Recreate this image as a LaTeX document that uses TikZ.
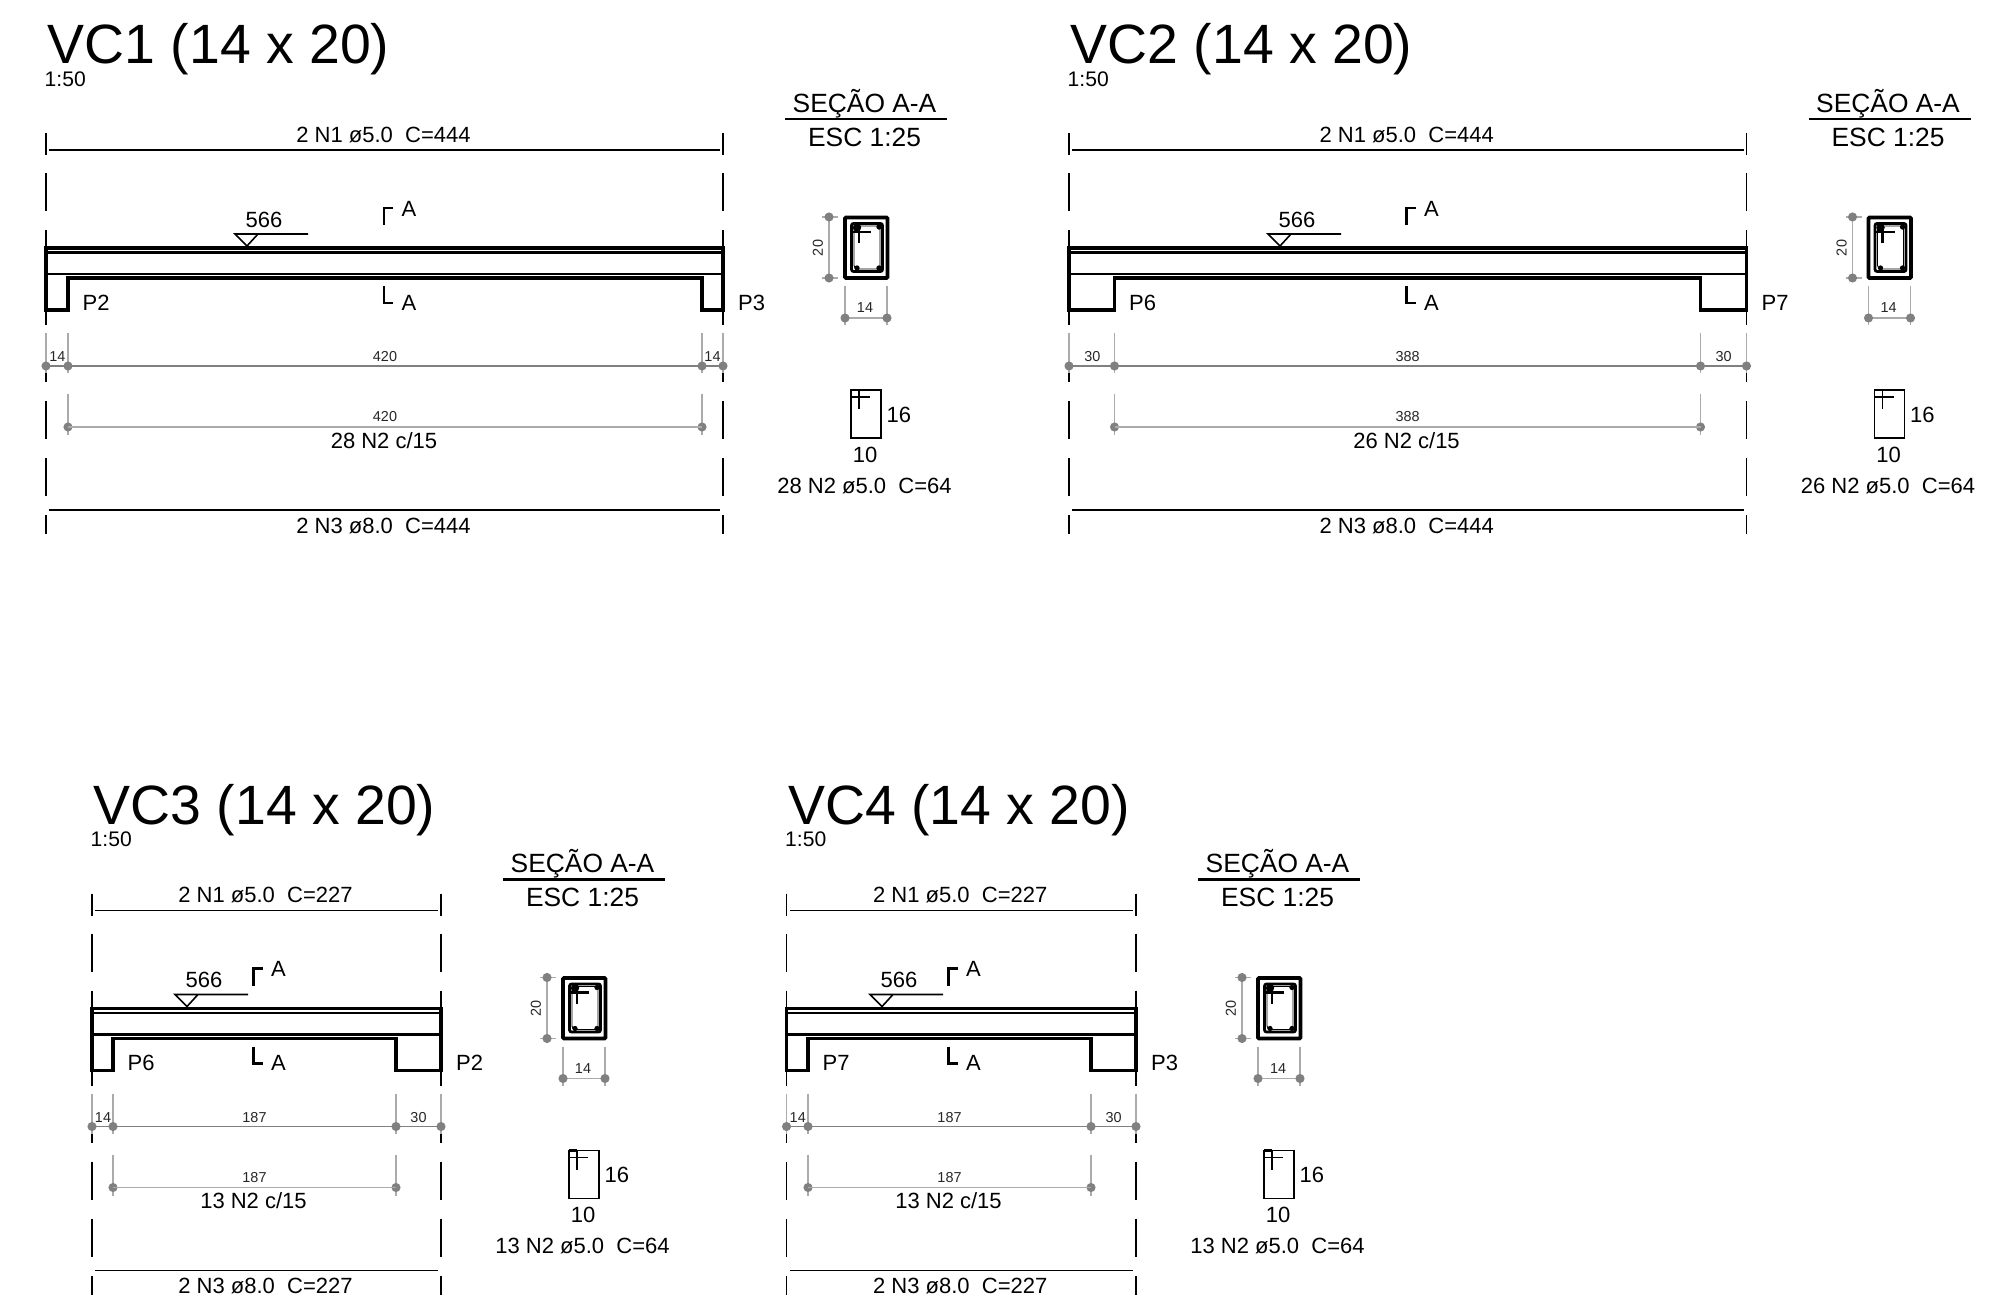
\documentclass[tikz,border=0pt]{standalone}
\usepackage{fontspec}
\setmainfont{Liberation Sans}
\usepackage{tikz}
\definecolor{dimgray}{HTML}{808080}
\definecolor{extgray}{HTML}{ABABAB}
\tikzset{
    label/.style={anchor=base, inner sep=0pt, yshift=-0.12pt, font=\fontsize{6.26}{7}\selectfont},
    dimtext/.style={anchor=base, inner sep=0pt, font=\fontsize{4.1}{5}\selectfont, text=black!85},
    axisline/.style={line width=0.42pt, dash pattern=on 10.81pt off 5.41pt, dash phase=4.84pt},
    barline/.style={line width=0.38pt},
    heavy/.style={line width=1pt},
    dimline/.style={line width=0.45pt, dimgray},
    extline/.style={line width=0.38pt, extgray},
    dimdot/.style={fill=dimgray},
}

\begin{document}
\begin{tikzpicture}[x=0.01cm, y=-0.01cm]
    \useasboundingbox (0, 0) rectangle (1989, 1304);
    \foreach \n/\xa/\xb/\xc/\xd/\dy/\lev/\pa/\pb/\wa/\wm/\wb/\cnt/\len in {
        1/46/68/702/723/0/235/P2/P3/14/420/14/28/444,
        2/1069/1114.5/1700.5/1746.5/0/1268/P6/P7/30/388/30/26/444,
        3/92/113/396/441/760.5/175/P6/P2/14/187/30/13/227,
        4/786.5/808/1091/1136/760.5/870/P7/P3/14/187/30/13/227%
    } {
        \pgfmathsetmacro\xm{(\xa+\xd)/2-1}
        \pgfmathsetmacro\xn{(\xb+\xc)/2-1}
        \begin{scope}[shift={(0, \dy)}]
            % titles
            \node[inner sep=0pt, font=\fontsize{15.75}{18}\selectfont, anchor=base west] (title\n) at (\xa+1, 64) {VC\n{} (14 x 20)};
            \node[label, anchor=base west, font=\fontsize{6}{7}\selectfont] (scale\n) at (\xa-2, 86) {1:50};

            % top and bottom bars
            \draw[barline] (\xa, 133) -- (\xa, 155);
            \draw[barline] (\xd, 133) -- (\xd, 155);
            \draw[axisline] (\xa, 133) -- (\xa, 534);
            \draw[axisline] (\xd, 133) -- (\xd, 534);
            \draw[barline] (\xa+3, 150) -- (\xd-3, 150);
            \draw[barline, line width=0.45pt] (\xa+3, 510) -- (\xd-3, 510);
            \node[label] (topbar\n) at (\xm, 142) {2 N1 ø5.0\ \ C=\len};
            \node[label] (botbar\n) at (\xm, 533) {2 N3 ø8.0\ \ C=\len};

            % beam outline
            \draw[heavy, line join=miter] (\xa, 248) -- (\xd, 248) -- (\xd, 310) -- (\xc, 310)
                -- (\xc, 278) -- (\xb, 278) -- (\xb, 310) -- (\xa, 310) -- cycle;
            \draw[line width=0.75pt] (\xa, 252.5) -- (\xd, 252.5);
            \draw[line width=0.65pt] (\xa, 274) -- (\xd, 274);

            % level mark
            \draw[line width=0.45pt] (\lev+73, 234) -- (\lev, 234) -- (\lev+12, 246) -- (\lev+23, 234);
            \node[label] (level\n) at (\lev+29, 227) {566};

            % section marks
            \draw[line width=0.6pt] (\xn, 225) -- (\xn, 208) -- (\xn+9, 208);
            \draw[line width=0.6pt] (\xn, 286) -- (\xn, 303) -- (\xn+9, 303);
            \node[label, anchor=base west] (marka\n) at (\xn+17, 216) {A};
            \node[label, anchor=base west] (markb\n) at (\xn+17, 310) {A};
            \node[label, anchor=base west] (pila\n) at (\xb+14, 310) {\pa};
            \node[label, anchor=base west] (pilb\n) at (\xd+14.5, 310) {\pb};

            % dimensions
            \foreach \x in {\xa, \xb, \xc, \xd} {
                \draw[extline] (\x, 333) -- (\x, 373);
                \fill[dimdot] (\x, 366) circle (1.3pt);
            }
            \foreach \x in {\xb, \xc} {
                \draw[extline] (\x, 394) -- (\x, 435);
                \fill[dimdot] (\x, 427) circle (1.3pt);
            }
            \draw[dimline] (\xa, 366) -- (\xd, 366);
            \draw[extline, line width=0.55pt] (\xb, 427) -- (\xc, 427);
            \node[dimtext] (dima\n) at ({(\xa+\xb)/2+0.5}, 362) {\wa};
            \node[dimtext] (dimm\n) at (\xn+1, 362) {\wm};
            \node[dimtext] (dimb\n) at ({(\xc+\xd)/2}, 362) {\wb};
            \node[dimtext] (dimn\n) at (\xn+1, 422) {\wm};
            \node[label] (spac\n) at (\xn, 448) {\cnt{} N2 c/15};
        \end{scope}

        \begin{scope}[shift={(\xd, \dy)}]
            % section title
            \node[label, font=\fontsize{7.5}{9}\selectfont] (sect\n) at (141.5, 112) {SEÇÃO A-A};
            \node[label, font=\fontsize{7.5}{9}\selectfont] (esc\n) at (141.5, 146) {ESC 1:25};
            \draw[line width=0.6pt] (62, 119) -- (224, 119);

            % section drawing
            \draw[line width=1.05pt, rounded corners=0.3pt] (122, 217.5) rectangle (164.5, 278);
            \draw[line width=0.8pt, rounded corners=0.6pt] (128.5, 223.5) rectangle (159.5, 271.5);
            \draw[line width=0.25pt, rounded corners=1pt] (131, 226) rectangle (157, 269);
            \fill (134, 227.5) circle (1.2pt);
            \foreach \x/\y in {156/227, 134/268, 156/268} {
                \fill (\x, \y) circle (0.75pt);
            }
            \draw[line width=0.6pt] (129, 232) -- (148, 232);
            \draw[line width=0.6pt] (136, 225) -- (136, 243);

            % section dimensions
            \draw[dimline, extgray] (106, 217) -- (106, 278);
            \draw[extline] (99, 217) -- (115, 217);
            \draw[extline] (99, 278) -- (115, 278);
            \fill[dimdot] (106, 217) circle (1.3pt);
            \fill[dimdot] (106, 278) circle (1.3pt);
            \node[dimtext, anchor=center, rotate=90] (secth\n) at (95, 248) {20};
            \draw[extline] (122, 286) -- (122, 325);
            \draw[extline] (164, 286) -- (164, 325);
            \draw[dimline, extgray] (122, 318) -- (164, 318);
            \fill[dimdot] (122, 318) circle (1.3pt);
            \fill[dimdot] (164, 318) circle (1.3pt);
            \node[dimtext] (sectw\n) at (142, 313) {14};

            % stirrup
            \draw[line width=0.45pt] (128, 390) rectangle (158, 438);
            \draw[line width=0.7pt] (128, 390) -- (136, 390);
            \draw[line width=0.45pt] (128, 397) -- (147, 397);
            \draw[line width=0.45pt] (136, 390) -- (136, 409);
            \node[label, anchor=base west] (stira\n) at (163, 422) {16};
            \node[label] (stirb\n) at (142, 462) {10};
            \node[label] (stirc\n) at (141.5, 493) {\cnt{} N2 ø5.0\ \ C=64};
        \end{scope}
    }
\end{tikzpicture}
\end{document}
